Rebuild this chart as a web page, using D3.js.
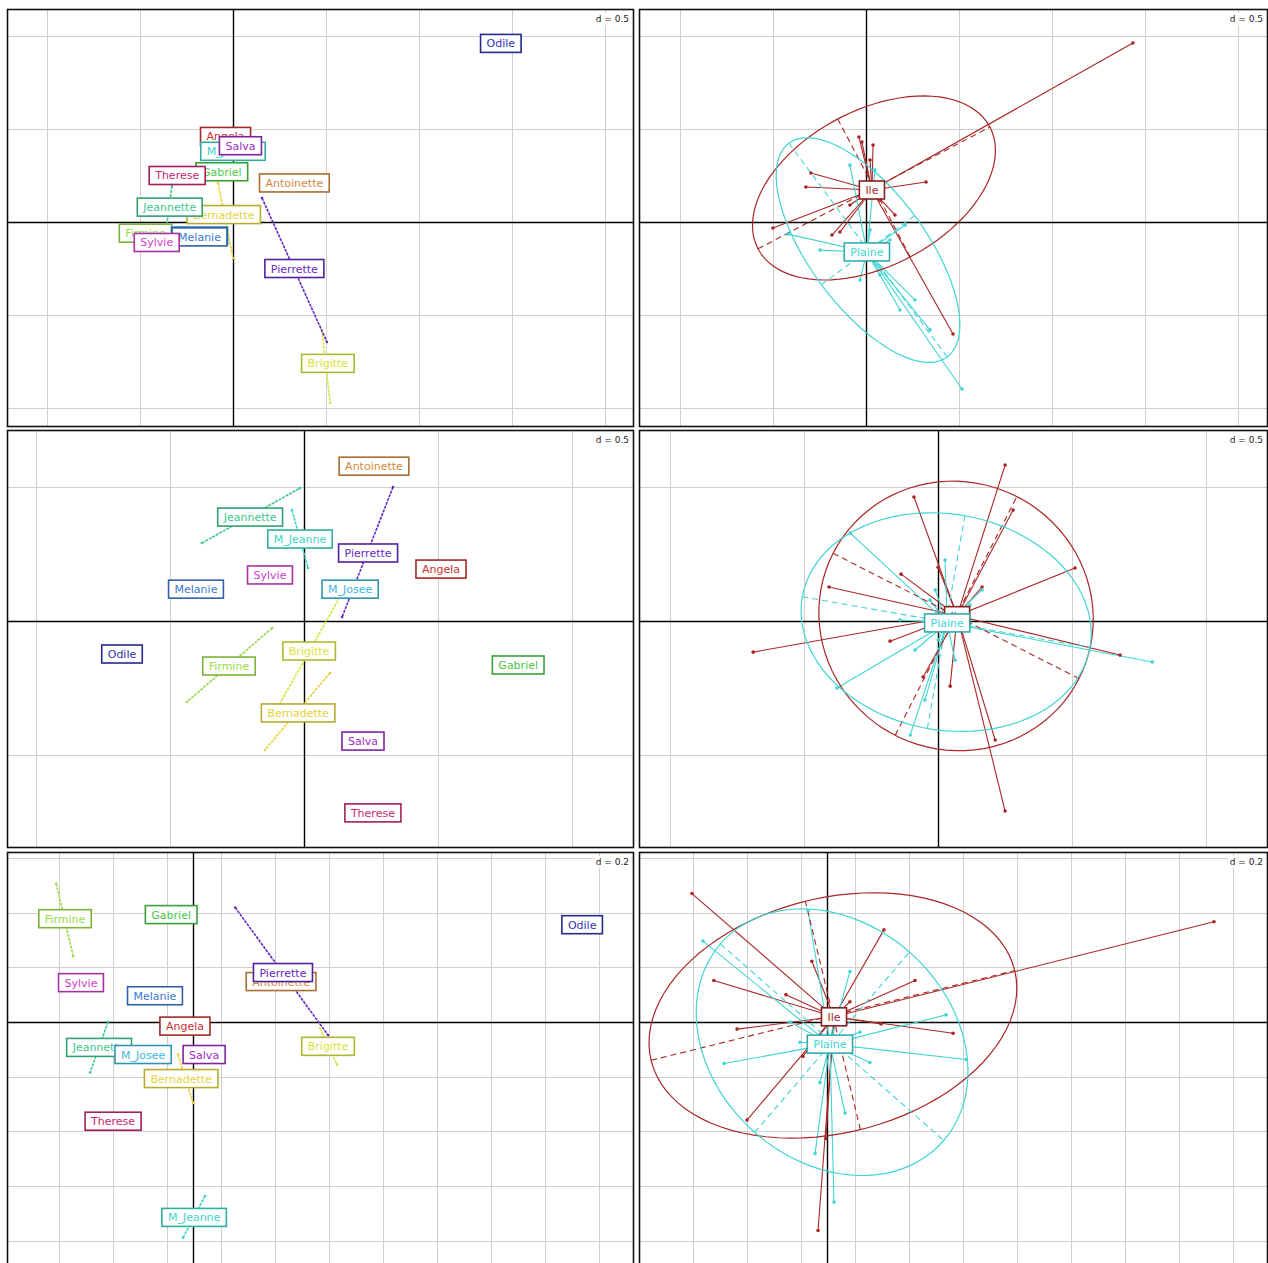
<!DOCTYPE html>
<html><head><meta charset="utf-8">
<script src="https://cdn.jsdelivr.net/npm/d3@7"></script>
<style>body{margin:0;background:#fff}svg{display:block}</style>
</head><body>
<script>
// ---------------- DATA ----------------
const persons = ["Angela","Antoinette","Bernadette","Brigitte","Firmine","Gabriel","Jeannette","M_Jeanne","M_Josee","Melanie","Odile","Pierrette","Salva","Sylvie","Therese"];
const groups = ["Ile","Plaine"];
const dValues = [0.5, 0.5, 0.2];
const gridOffsetX = [0, 0, -0.095];
const xLimLeft  = [[-1.215, 2.156], [-1.108, 1.231], [-0.689, 1.633]];
const xLimRight = [[-1.220, 2.161], [-1.116, 1.231], [-0.696, 1.633]];
const yLim      = [[-1.102, 1.145], [-0.847, 0.713], [-0.944, 0.622]];

// person label positions (class means)
const row1Labels = [[-0.04,0.46],[0.33,0.21],[-0.05,0.04],[0.51,-0.76],[-0.47,-0.06],[-0.06,0.27],[-0.34,0.08],[0.0,0.38],[-0.18,-0.075],[-0.18,-0.08],[1.44,0.96],[0.33,-0.25],[0.04,0.41],[-0.41,-0.11],[-0.30,0.25]];
const row2Labels = [[0.511,0.194],[0.261,0.578],[-0.022,-0.343],[0.019,-0.112],[-0.28,-0.168],[0.799,-0.164],[-0.201,0.388],[-0.015,0.306],[0.172,0.119],[-0.403,0.119],[-0.679,-0.123],[0.239,0.254],[0.22,-0.448],[-0.127,0.172],[0.257,-0.716]];
const row3Labels = [[-0.03,-0.015],[0.326,0.148],[-0.044,-0.207],[0.5,-0.089],[-0.474,0.378],[-0.081,0.393],[-0.348,-0.093],[0.004,-0.715],[-0.185,-0.119],[-0.141,0.096],[1.441,0.356],[0.333,0.181],[0.041,-0.119],[-0.415,0.144],[-0.296,-0.363]];

// segments joining each person's two observations (x1,y1,x2,y2)
const row1Segments = [null,null,[-0.081,0.21,0,-0.194],[0.478,-0.581,0.522,-0.973],null,null,[-0.328,0.194,-0.36,-0.043],null,null,null,null,[0.156,0.129,0.505,-0.645],null,null,null];
const row2Segments = [null,null,[0.097,-0.194,-0.146,-0.481],[0.134,0.09,-0.093,-0.313],[-0.119,-0.026,-0.437,-0.302],null,[-0.381,0.291,-0.015,0.496],[-0.045,0.414,0.015,0.198],null,null,null,[0.332,0.5,0.142,0.015],null,null,null];
const row3Segments = [null,null,[-0.056,-0.119,0,-0.296],[0.47,-0.022,0.533,-0.156],[-0.507,0.507,-0.444,0.241],null,[-0.315,0,-0.381,-0.185],[0.044,-0.637,-0.037,-0.789],null,null,null,[0.156,0.419,0.5,-0.048],null,null,null];

// observations by site
const row1Ile = [[1.435,0.962],[0.468,-0.602],[-0.5,-0.032],[-0.323,0.188],[-0.296,0.263],[-0.038,0.457],[-0.022,0.43],[0.038,0.414],[0.323,0.215],[-0.183,-0.07],[-0.14,-0.054],[0.022,0.333],[0.075,0.118],[-0.086,0.091],[0.156,0.038]];
const row1Plaine = [[0.516,-0.898],[-0.419,-0.065],[-0.086,0.306],[0.048,0.28],[0.21,-0.016],[0.344,-0.58],[0.183,-0.473],[-0.247,-0.151],[0.075,-0.285],[-0.032,-0.312],[-0.113,-0.177],[0.129,-0.097],[0.022,-0.043],[-0.059,-0.124],[0.263,-0.419]];
const row2Ile = [[0.25,0.582],[-0.09,0.463],[0.511,0.198],[-0.138,0.175],[-0.407,0.127],[0.164,0.127],[-0.69,-0.116],[-0.179,-0.075],[0.045,-0.243],[0.213,-0.444],[0.25,-0.709],[0.679,-0.127],[0,0.201],[-0.056,-0.209],[0.28,0.414]];
const row2Plaine = [[-0.328,0.328],[-0.377,-0.25],[-0.104,-0.425],[0.799,-0.153],[0.164,0.116],[0,-0.071],[-0.03,0.078],[0.082,-0.034],[-0.086,-0.108],[0.026,0.228],[-0.049,-0.295],[0.119,0.06],[-0.142,0.004],[0.063,-0.146],[-0.011,0.116]];
const row3Ile = [[-0.5,0.47],[1.433,0.367],[0.211,0.337],[-0.419,0.152],[0.326,0.152],[-0.152,0.1],[-0.333,-0.026],[0.467,-0.041],[-0.296,-0.359],[-0.089,-0.126],[-0.033,-0.763],[-0.004,-0.426],[0.2,-0.007],[-0.056,0.222],[0.085,0.074]];
const row3Plaine = [[-0.459,0.296],[0.441,0.026],[-0.381,-0.152],[0.515,-0.137],[0.026,-0.659],[-0.07,0.407],[0.03,0.037],[-0.026,-0.222],[0.122,-0.037],[-0.1,-0.074],[0.067,-0.333],[-0.137,0],[0.159,-0.148],[-0.044,-0.481],[0.085,0.185]];

// group centres and ellipses [cx, cy, a, b, angleDeg]
const row1Centers = [[0.032,0.172],[0.005,-0.161]];
const row2Centers = [[0.071,0.02],[0.034,-0.007]];
const row3Centers = [[0.026,0.019],[0.011,-0.081]];
const row1Ellipses = [[0.043,0.183,0.704,0.419,27.7],[0.011,-0.151,0.715,0.312,-53.5]];
const row2Ellipses = [[0.067,0.019,0.515,0.5,-27],[0.03,-0.004,0.545,0.403,-10]];
const row3Ellipses = [[0.022,0.024,0.693,0.43,13.7],[0.019,-0.074,0.548,0.437,-41]];

// ---------------- STYLE ----------------
const personColors = ["#cc3030","#d4883c","#e4d23c","#d6e43c","#98dc48","#48c848","#3cc88a","#3cd6c8","#3cb6dc","#3a78d0","#3232b0","#6428c4","#a02cc6","#d03cc8","#c82870"];
const groupColors = ["#aa2626","#40d4d4"];
const PX = [[7,634],[639,1268]];
const PY = [[9,427],[430,848],[852,1280]];
const FONT = "DejaVu Sans, Verdana, sans-serif";

const rows = [
  {labels: row1Labels, segs: row1Segments, obs: [row1Ile,row1Plaine], centers: row1Centers, ell: row1Ellipses},
  {labels: row2Labels, segs: row2Segments, obs: [row2Ile,row2Plaine], centers: row2Centers, ell: row2Ellipses},
  {labels: row3Labels, segs: row3Segments, obs: [row3Ile,row3Plaine], centers: row3Centers, ell: row3Ellipses}
];

const svg = d3.select("body").append("svg").attr("width",1268).attr("height",1263);

function panel(r, c) {
  const [x0,x1] = PX[c], [y0,y1] = PY[r];
  const xs = d3.scaleLinear().domain(c===0 ? xLimLeft[r] : xLimRight[r]).range([x0,x1]);
  const ys = d3.scaleLinear().domain(yLim[r]).range([y1,y0]);
  const id = "clip"+r+c;
  svg.append("clipPath").attr("id",id).append("rect").attr("x",x0).attr("y",y0).attr("width",x1-x0).attr("height",y1-y0);
  const g = svg.append("g").attr("clip-path","url(#"+id+")");
  const d = dValues[r], off = gridOffsetX[r];
  const xd = xs.domain(), yd = ys.domain();
  const gx = d3.range(Math.ceil((xd[0]-off)/d), Math.floor((xd[1]-off)/d)+1).map(i=>off+i*d);
  const gy = d3.range(Math.ceil(yd[0]/d), Math.floor(yd[1]/d)+1).map(i=>i*d);
  const snap = v => Math.round(v)+0.5;
  g.append("g").selectAll("line").data(gx).join("line")
    .attr("x1",v=>snap(xs(v))).attr("x2",v=>snap(xs(v))).attr("y1",y0).attr("y2",y1)
    .attr("stroke","#cfcfcf").attr("stroke-width",1);
  g.append("g").selectAll("line").data(gy).join("line")
    .attr("y1",v=>snap(ys(v))).attr("y2",v=>snap(ys(v))).attr("x1",x0).attr("x2",x1)
    .attr("stroke","#cfcfcf").attr("stroke-width",1);
  g.append("line").attr("x1",snap(xs(0))).attr("x2",snap(xs(0))).attr("y1",y0).attr("y2",y1).attr("stroke","#000").attr("stroke-width",1.4);
  g.append("line").attr("y1",snap(ys(0))).attr("y2",snap(ys(0))).attr("x1",x0).attr("x2",x1).attr("stroke","#000").attr("stroke-width",1.4);
  return {g, xs, ys, x0, x1, y0, y1, d};
}

function finishPanel(p) {
  const t = svg.append("text").attr("x",p.x1-5).attr("y",p.y0+13).attr("text-anchor","end")
    .attr("font-family",FONT).attr("font-size",9).attr("fill","#222").text("d = "+p.d);
  const bb = t.node().getBBox();
  svg.insert("rect", () => t.node()).attr("x",bb.x-2).attr("y",bb.y-1).attr("width",bb.width+4).attr("height",bb.height+2).attr("fill","#fff");
  svg.append("rect").attr("x",p.x0+0.5).attr("y",p.y0+0.5).attr("width",p.x1-p.x0-1).attr("height",p.y1-p.y0-1)
    .attr("fill","none").attr("stroke","#111").attr("stroke-width",1.6);
}

function boxLabel(g, x, y, text, color) {
  const lg = g.append("g");
  const t = lg.append("text").attr("x",x).attr("y",y+4).attr("text-anchor","middle")
    .attr("font-family",FONT).attr("font-size",11).attr("fill",color).text(text);
  const w = t.node().getComputedTextLength();
  lg.insert("rect","text").attr("x",x-w/2-6).attr("y",y-9).attr("width",w+12).attr("height",18)
    .attr("fill","#fff").attr("stroke",d3.color(color).darker(0.6)).attr("stroke-width",1.6);
}

function ellipsePts(e) {
  const [cx,cy,a,b,ang] = e, th = ang*Math.PI/180;
  return d3.range(0, 361, 4).map(k => {
    const t = k*Math.PI/180;
    return [cx + a*Math.cos(t)*Math.cos(th) - b*Math.sin(t)*Math.sin(th),
            cy + a*Math.cos(t)*Math.sin(th) + b*Math.sin(t)*Math.cos(th)];
  });
}

rows.forEach((row, r) => {
  // left panel: persons
  const L = panel(r, 0);
  row.segs.forEach((s, i) => {
    if (!s) return;
    L.g.append("line").attr("x1",L.xs(s[0])).attr("y1",L.ys(s[1])).attr("x2",L.xs(s[2])).attr("y2",L.ys(s[3]))
      .attr("stroke",personColors[i]).attr("stroke-width",1.6).attr("stroke-dasharray","3,1");
    [[s[0],s[1]],[s[2],s[3]]].forEach(pt => L.g.append("circle").attr("cx",L.xs(pt[0])).attr("cy",L.ys(pt[1])).attr("r",1.3).attr("fill",personColors[i]));
  });
  row.labels.forEach((p, i) => boxLabel(L.g, L.xs(p[0]), L.ys(p[1]), persons[i], personColors[i]));
  finishPanel(L);

  // right panel: sites
  const R = panel(r, 1);
  const line = d3.line().x(d => R.xs(d[0])).y(d => R.ys(d[1]));
  groups.forEach((gname, k) => {
    const c = row.centers[k];
    R.g.append("g").selectAll("line").data(row.obs[k]).join("line")
      .attr("x1",R.xs(c[0])).attr("y1",R.ys(c[1])).attr("x2",d=>R.xs(d[0])).attr("y2",d=>R.ys(d[1]))
      .attr("stroke",groupColors[k]).attr("stroke-width",1.1);
  });
  groups.forEach((gname, k) => {
    const e = row.ell[k], th = e[4]*Math.PI/180;
    R.g.append("path").attr("d", line(ellipsePts(e))).attr("fill","none").attr("stroke",groupColors[k]).attr("stroke-width",1.2);
    const ax = [[e[0]-e[2]*Math.cos(th), e[1]-e[2]*Math.sin(th), e[0]+e[2]*Math.cos(th), e[1]+e[2]*Math.sin(th)],
                [e[0]+e[3]*Math.sin(th), e[1]-e[3]*Math.cos(th), e[0]-e[3]*Math.sin(th), e[1]+e[3]*Math.cos(th)]];
    ax.forEach(a => R.g.append("line").attr("x1",R.xs(a[0])).attr("y1",R.ys(a[1])).attr("x2",R.xs(a[2])).attr("y2",R.ys(a[3]))
      .attr("stroke",groupColors[k]).attr("stroke-width",1.1).attr("stroke-dasharray","6,4"));
  });
  groups.forEach((gname, k) => {
    R.g.append("g").selectAll("circle").data(row.obs[k]).join("circle")
      .attr("cx",d=>R.xs(d[0])).attr("cy",d=>R.ys(d[1])).attr("r",1.8).attr("fill",groupColors[k]);
  });
  groups.forEach((gname, k) => boxLabel(R.g, R.xs(row.centers[k][0]), R.ys(row.centers[k][1]), gname, groupColors[k]));
  finishPanel(R);
});
</script>
</body></html>
